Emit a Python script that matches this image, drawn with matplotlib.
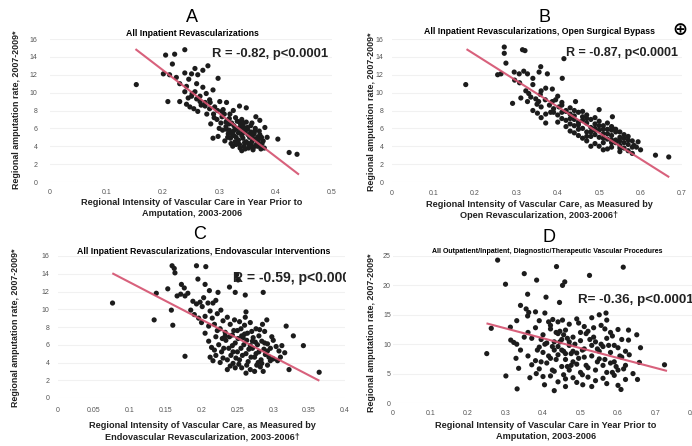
import matplotlib
matplotlib.use("Agg")
import matplotlib.pyplot as plt
from matplotlib.transforms import Bbox, TransformedBbox
import numpy as np

plt.rcParams['font.family'] = ['Liberation Sans', 'DejaVu Sans']

W, H = 692, 446

# ---------------- data ----------------
a_x = [0.153,0.205,0.221,0.239,0.217,0.209,0.201,0.212,0.224,0.239,0.251,0.257,0.271,0.280,0.298,0.262,0.246,
       0.230,0.242,0.260,0.271,0.257,0.266,0.277,0.289,0.239,0.251,0.283,0.230,0.242,0.248,0.266,0.275,0.284,
       0.292,0.301,0.307,0.313,0.319,0.325,0.336,0.348,0.290,0.278,0.255,0.262,0.296,0.305,0.312,0.318,0.285,
       0.289,0.298,0.312,0.318,0.322,0.326,0.330,0.334,0.338,0.342,0.346,0.350,0.354,0.358,0.362,0.366,0.370,
       0.374,0.320,0.328,0.336,0.344,0.352,0.360,0.368,0.316,0.324,0.332,0.340,0.348,0.356,0.364,0.372,0.378,
       0.306,0.310,0.300,0.340,0.348,0.356,0.330,0.322,0.334,0.346,0.360,0.368,0.376,0.340,0.352,0.326,0.314,
       0.344,0.381,0.404,0.424,0.438,0.365,0.372,0.385,0.380]
a_y = [10.9,14.2,14.3,14.8,13.2,9.0,12.1,12.0,11.7,12.2,12.1,12.7,12.5,13.0,11.6,12.0,11.5,
       11.0,10.7,11.0,10.6,10.1,9.6,9.9,10.3,10.1,9.6,9.2,9.0,8.7,8.4,9.0,8.5,8.9,
       8.4,9.0,8.1,8.9,7.6,8.0,8.5,8.3,7.6,7.6,8.2,7.9,7.0,7.3,6.7,7.1,6.5,
       4.9,5.1,6.2,5.8,6.6,5.2,6.0,5.5,6.4,4.9,5.7,6.1,5.0,4.5,5.4,4.2,4.8,
       3.9,4.9,4.5,4.2,4.0,3.8,3.6,4.0,5.4,4.0,6.8,7.0,6.7,6.3,6.0,5.3,4.6,
       5.8,4.6,6.0,5.2,4.5,5.6,5.0,5.4,4.7,3.7,4.9,5.0,4.3,3.5,4.3,6.3,6.9,
       6.1,6.1,4.8,3.3,3.1,7.3,6.9,5.0,3.8]
a_x_core = [0.315,0.321,0.327,0.333,0.339,0.345,0.351,0.357,0.363,0.369,0.375,0.318,0.324,0.330,0.336,0.342,
            0.350,0.358,0.366,0.374,0.303,0.309,0.297,0.291,0.283,0.275,0.268,0.260,0.252,0.245,0.305,0.329,
            0.353,0.361,0.337,0.313,0.343,0.371,0.357,0.333]
a_y_core = [5.0,4.3,5.8,4.6,5.9,4.4,5.3,4.1,5.7,4.5,5.0,6.5,5.6,4.2,6.7,5.5,
            5.9,6.6,4.7,3.7,6.6,7.6,8.0,7.2,8.2,8.9,8.6,9.3,9.9,9.4,7.9,7.2,
            4.1,3.9,3.8,5.9,6.6,5.7,5.2,6.0]
a_fit_x = [0.153, 0.440]
a_fit_y = [14.8, 0.9]

b_x = [0.178,0.271,0.271,0.275,0.255,0.263,0.291,0.315,0.321,0.295,0.307,0.318,0.327,0.355,0.359,0.375,0.411,0.415,
       0.371,0.387,0.340,0.308,0.296,0.323,0.335,0.347,0.358,0.311,0.327,0.354,
       0.443,0.387,0.395,0.403,0.340,0.351,0.371,0.383,0.371,0.360,0.500,0.532,0.532,0.584,0.594,0.636,0.668,
       0.39,0.40,0.41,0.42,0.42,0.43,0.43,0.44,0.44,0.45,0.45,0.46,0.46,0.47,0.47,0.48,0.48,0.49,0.49,0.50,
       0.50,0.51,0.51,0.52,0.52,0.53,0.53,0.54,0.54,0.55,0.55,0.56,0.56,0.57,0.57,0.58,0.58,0.41,0.42,0.43,
       0.45,0.46,0.47,0.48,0.49,0.50,0.51,0.52,0.53,0.55,0.44,0.46,0.47,0.49,0.50,0.52,0.53,0.54,0.55,0.56,
       0.57,0.58,0.59,0.60,0.38,0.36,0.40,0.44,0.48,0.51]
b_y = [10.9,15.1,14.4,13.3,12.0,12.1,8.8,14.8,14.7,12.3,12.1,12.4,12.1,12.3,12.9,12.1,11.6,13.8,
       10.5,10.4,10.9,11.1,11.4,10.2,9.5,9.3,9.8,9.4,9.0,9.0,
       9.0,9.0,9.2,8.4,8.0,7.7,7.6,7.8,6.6,7.2,8.1,7.3,6.0,4.1,4.5,3.0,2.8,
       8.2,7.5,8.6,7.9,6.9,7.6,8.3,7.0,6.3,7.8,6.7,7.3,6.0,6.6,5.6,7.0,6.1,5.3,6.5,5.8,
       5.0,6.3,5.4,4.8,5.9,5.2,4.4,5.6,4.7,4.1,5.0,4.4,3.8,4.7,3.5,3.9,3.2,7.1,6.2,5.7,
       5.2,4.9,4.6,5.1,4.3,4.0,4.4,3.7,3.9,3.4,8.0,7.9,7.5,7.2,6.8,6.6,6.2,5.9,5.6,5.3,
       5.1,4.6,3.9,3.6,8.6,8.4,9.6,5.5,4.0,3.6]
b_x_core = [0.40,0.41,0.42,0.43,0.44,0.45,0.46,0.47,0.48,0.49,0.50,0.51,0.52,0.53,0.54,0.55,0.56,0.57,
            0.45,0.47,0.49,0.51,0.53,0.55,0.43,0.41,0.39,0.37,0.35,0.33,0.34,0.36]
b_y_core = [6.7,7.8,8.0,6.5,7.4,5.9,6.9,7.1,5.6,6.0,6.3,4.9,5.4,5.8,4.4,4.6,4.9,4.2,
            6.4,5.1,5.8,5.9,4.7,3.8,7.1,8.9,7.8,9.2,8.7,9.9,11.6,10.2]
b_fit_x = [0.182, 0.667]
b_fit_y = [14.8, 0.6]

c_x = [0.076,0.134,0.160,0.177,0.137,0.153,0.158,0.159,0.162,0.163,0.172,0.176,0.181,0.171,0.166,0.177,0.193,0.206,
       0.205,0.195,0.211,0.188,0.198,0.203,0.209,0.216,0.220,0.223,0.239,0.247,0.249,0.251,0.261,0.286,0.262,0.291,
       0.318,0.328,0.342,0.322,0.364,0.300,
       0.185,0.190,0.196,0.200,0.205,0.210,0.212,0.215,0.218,0.222,0.226,0.230,0.233,0.236,0.240,0.243,0.246,0.250,
       0.253,0.256,0.260,0.264,0.268,0.272,0.276,0.280,0.284,0.288,0.292,0.296,0.300,0.304,0.308,0.312,0.316,0.310,
       0.296,
       0.205,0.210,0.214,0.212,0.216,0.220,0.224,0.228,0.230,0.234,0.238,0.241,0.244,0.247,0.250,0.253,0.256,0.259,
       0.262,0.265,0.268,0.271,0.274,0.277,0.280,0.283,0.286,0.289,0.292,0.270,0.258,0.245,0.233,0.226,0.240,0.262,
       0.278,0.287,0.294,0.220,0.248,0.255,0.266,0.274,0.282]
c_y = [10.7,8.8,8.2,4.7,11.8,12.3,9.9,14.9,14.6,14.1,12.8,12.4,11.8,11.7,11.5,11.5,14.9,14.8,
       12.8,13.4,12.1,10.9,10.8,11.3,10.7,10.7,11.0,11.9,12.5,11.9,13.9,13.3,11.6,11.9,9.7,8.8,
       8.1,7.0,5.9,3.2,2.9,4.4,
       9.9,9.4,9.0,8.5,9.2,8.1,9.8,9.0,8.3,9.5,7.8,8.7,7.4,9.1,8.3,7.1,8.8,7.6,
       8.6,7.0,8.2,7.3,8.5,6.8,7.8,7.0,6.4,7.5,6.1,5.6,6.5,5.8,5.3,5.9,5.1,4.6,
       4.2,
       7.3,6.4,5.7,4.6,4.2,6.9,6.0,5.2,4.5,6.5,5.6,4.8,3.9,6.2,5.2,4.3,3.4,6.0,
       5.0,4.1,3.2,5.6,4.6,3.7,5.2,4.3,3.0,4.9,3.7,7.5,6.8,7.6,7.0,4.0,3.6,2.8,
       6.0,5.5,4.6,4.8,4.5,5.6,5.5,3.0,3.5]
c_x_core = [0.218,0.222,0.229,0.236,0.243,0.251,0.257,0.263,0.269,0.275,0.281,0.288,0.236,0.244,0.252,0.260,
            0.268,0.276,0.284,0.292,0.231,0.239,0.247,0.255,0.263,0.271,0.279,0.298,0.306,0.201,0.193,0.227,
            0.261,0.285]
c_y_core = [5.4,7.6,6.7,4.3,5.9,6.7,4.8,6.5,4.6,6.3,7.7,6.2,3.2,5.2,3.8,7.2,
            5.9,5.0,3.9,5.3,5.6,6.9,3.4,7.8,3.7,6.4,4.0,6.9,4.2,10.3,10.6,9.9,
            9.1,8.3]
c_fit_x = [0.077, 0.363]
c_fit_y = [14.0, 2.0]

d_x = [0.279,0.300,0.350,0.383,0.359,0.408,0.436,0.452,0.458,0.444,0.524,0.614,0.250,0.262,0.313,0.314,0.322,0.330,
       0.301,0.331,0.335,0.328,0.355,0.362,0.359,0.380,0.405,0.426,0.440,0.452,0.550,0.568,0.530,0.657,0.724,0.652,
       0.628,0.628,0.600,0.580,0.430,0.404,0.506,0.608,0.382,0.400,0.460,0.480,0.520,0.540,0.560,0.590,0.620,0.365,
       0.36,0.37,0.38,0.39,0.40,0.41,0.42,0.43,0.44,0.45,0.46,0.47,0.48,0.49,0.50,0.51,0.52,0.53,0.54,0.55,
       0.56,0.57,0.58,0.59,0.60,0.61,0.62,0.63,0.36,0.37,0.38,0.39,0.40,0.41,0.42,0.43,0.44,0.45,0.46,0.47,
       0.48,0.49,0.50,0.51,0.52,0.53,0.54,0.55,0.56,0.57,0.58,0.59,0.60,0.61,0.62,0.44,0.45,0.43,0.46,0.47,
       0.48,0.50,0.51,0.34,0.35,0.42,0.44,0.46,0.49,0.53,0.57,0.60,0.64,0.66,0.65,0.555,0.57,0.42,0.47,0.49,
       0.33,0.34,0.39]
d_y = [24.3,20.2,22.0,20.9,18.5,18.0,23.2,20.0,20.6,17.1,21.7,23.1,8.4,12.7,12.9,10.7,10.3,10.0,
       4.6,2.4,5.9,7.6,16.0,15.4,14.8,15.5,15.3,14.2,13.8,14.1,15.0,15.3,14.5,6.9,6.5,4.0,
       10.7,12.4,12.5,12.0,2.1,3.1,3.1,2.3,5.0,4.5,4.1,4.3,4.4,3.8,4.2,4.7,4.0,4.3,
       12.0,11.0,12.8,9.5,11.6,10.2,12.6,9.0,11.8,10.8,12.4,9.8,11.2,8.5,10.6,9.2,12.2,8.0,10.4,7.5,
       9.6,11.0,8.6,7.0,9.4,7.8,6.4,8.2,8.0,6.5,7.2,5.8,8.6,6.8,7.6,5.4,8.2,6.2,7.4,5.6,
       8.8,6.6,5.2,7.8,6.0,9.8,5.6,8.8,6.4,5.2,6.8,9.8,5.6,10.8,8.8,9.6,9.0,10.4,8.4,10.4,
       7.0,12.0,13.0,9.0,11.2,4.6,3.6,2.8,3.5,2.8,3.3,3.0,5.0,9.4,11.6,13.2,14.1,13.2,13.4,14.3,
       14.0,16.6,14.0]
d_x_core = [0.385,0.395,0.405,0.415,0.425,0.435,0.445,0.455,0.465,0.475,0.485,0.495,0.505,0.515,0.525,0.535,
            0.545,0.555,0.565,0.575,0.585,0.595,0.605,0.615,0.445,0.455,0.465,0.475,0.435,0.425,0.505,0.515,
            0.535,0.565,0.585,0.415,0.395,0.455,0.495,0.545]
d_y_core = [9.0,7.0,10.0,8.0,9.6,7.4,10.4,11.6,6.2,8.4,10.0,7.6,9.0,6.4,10.8,11.2,
            7.0,10.0,12.6,9.8,11.4,6.2,8.0,5.8,12.2,4.8,11.0,6.4,12.0,5.6,4.8,11.8,
            12.8,7.4,5.2,13.8,10.8,8.8,13.6,9.2]
d_fit_x = [0.252, 0.728]
d_fit_y = [13.5, 5.5]

a_xticks = [0, 0.1, 0.2, 0.3, 0.4, 0.5]
a_xticklabels = ['0', '0.1', '0.2', '0.3', '0.4', '0.5']
b_xticks = [0, 0.1, 0.2, 0.3, 0.4, 0.5, 0.6, 0.7]
b_xticklabels = ['0', '0.1', '0.2', '0.3', '0.4', '0.5', '0.6', '0.7']
c_xticks = [0, 0.05, 0.1, 0.15, 0.2, 0.25, 0.3, 0.35, 0.4]
c_xticklabels = ['0', '0.05', '0.1', '0.15', '0.2', '0.25', '0.3', '0.35', '0.4']
d_xticks = [0, 0.1, 0.2, 0.3, 0.4, 0.5, 0.6, 0.7, 0.8]
d_xticklabels = ['0', '0.1', '0.2', '0.3', '0.4', '0.5', '0.6', '0.7', '0.8']
abc_yticks = [0, 2, 4, 6, 8, 10, 12, 14, 16]
d_yticks = [0, 5, 10, 15, 20, 25]

letters = ['A', 'B', 'C', 'D']
subtitles = ['All Inpatient Revascularizations',
             'All Inpatient Revascularizations, Open Surgical Bypass',
             'All Inpatient Revascularizations, Endovascular Interventions',
             'All Outpatient/Inpatient, Diagnostic/Therapeutic Vascular Procedures']
stats = ['R = -0.82, p<0.0001', 'R = -0.87, p<0.0001', 'R = -0.59, p<0.0001', 'R= -0.36, p<0.0001']
xlabels = ['Regional Intensity of Vascular Care in Year Prior to\nAmputation, 2003-2006',
           'Regional Intensity of Vascular Care, as Measured by\nOpen Revascularization, 2003-2006\u2020',
           'Regional Intensity of Vascular Care, as Measured by\nEndovascular Revascularization, 2003-2006\u2020',
           'Regional Intensity of Vascular Care in Year Prior to\nAmputation, 2003-2006']
ylabel = 'Regional amputation rate, 2007-2009*'

# ---------------- figure ----------------
fig = plt.figure(figsize=(W / 100, H / 100), dpi=100)
fig.patch.set_facecolor('white')


def px(x, y):
    return x / W, 1 - y / H


def rect(l, r, t, b):
    return [l / W, 1 - b / H, (r - l) / W, (b - t) / H]


DOT = '#1c1c1c'
LINE = '#d4506e'

panels = [
    dict(r=rect(50, 332, 39, 182), x=a_x + a_x_core, y=a_y + a_y_core, fx=a_fit_x, fy=a_fit_y,
         xl=(0, 0.5), yl=(0, 16), xt=a_xticks, xtl=a_xticklabels, yt=abc_yticks, xpad=5.2, ypad=9,
         letter=(192, 18), sub=(192, 33), subfs=6.3, stat=(212, 54), statfs=9.4,
         xlab=(192, 208), ylab=(17, 110), clipx=(0, 346)),
    dict(r=rect(392, 682, 39, 182), x=b_x + b_x_core, y=b_y + b_y_core, fx=b_fit_x, fy=b_fit_y,
         xl=(0, 0.7), yl=(0, 16), xt=b_xticks, xtl=b_xticklabels, yt=abc_yticks, xpad=6, ypad=6,
         letter=(544, 17), sub=(539, 31), subfs=6.3, stat=(566, 53), statfs=9.0,
         xlab=(539, 210), ylab=(371, 112), clipx=(346, 692)),
    dict(r=rect(58, 345, 256, 398), x=c_x + c_x_core, y=c_y + c_y_core, fx=c_fit_x, fy=c_fit_y,
         xl=(0, 0.4), yl=(0, 16), xt=c_xticks, xtl=c_xticklabels, yt=abc_yticks, xpad=6.5, ypad=6,
         letter=(200, 235), sub=(204, 252), subfs=6.3, stat=(233, 278), statfs=10.0,
         xlab=(202, 431), ylab=(16, 328), clipx=(0, 346)),
    dict(r=rect(393, 693, 256, 403), x=d_x + d_x_core, y=d_y + d_y_core, fx=d_fit_x, fy=d_fit_y,
         xl=(0, 0.8), yl=(0, 25), xt=d_xticks, xtl=d_xticklabels, yt=d_yticks, xpad=4.7, ypad=1.5,
         letter=(549, 238), sub=(547, 252), subfs=5.0, stat=(578, 300), statfs=9.6,
         xlab=(546, 431), ylab=(371, 333), clipx=(346, 692)),
]

for i, p in enumerate(panels):
    ax = fig.add_axes(p['r'])
    ax.set_xlim(*p['xl'])
    ax.set_ylim(*p['yl'])
    for s in ax.spines.values():
        s.set_visible(False)
    ax.set_xticks(p['xt'])
    ax.set_xticklabels(p['xtl'])
    ax.set_yticks(p['yt'])
    ax.set_yticklabels([str(v) for v in p['yt']])
    ax.tick_params(axis='both', length=0, labelsize=5, labelcolor='#555555')
    ax.tick_params(axis='x', pad=p['xpad'])
    ax.tick_params(axis='y', pad=p['ypad'])
    ax.grid(axis='y', color='#f1f1f1', lw=0.8)
    ax.set_axisbelow(True)
    ax.scatter(p['x'], p['y'], s=14, color=DOT, edgecolors='none', zorder=3, clip_on=False)
    ax.plot(p['fx'], p['fy'], color=LINE, lw=1.5, zorder=4, alpha=0.9)

    fig.text(*px(*p['letter']), letters[i], ha='center', va='center', fontsize=13)
    fig.text(*px(*p['sub']), subtitles[i], ha='center', va='center', fontsize=p['subfs'],
             fontweight='bold')
    t = fig.text(*px(*p['stat']), stats[i], ha='left', va='center', fontsize=p['statfs'],
                 fontweight='bold', color='#222222')
    cl, cr = p['clipx']
    t.set_clip_box(TransformedBbox(Bbox([[cl / W, 0], [cr / W, 1]]), fig.transFigure))
    t.set_clip_on(True)
    fig.text(*px(*p['xlab']), xlabels[i], ha='center', va='center', fontsize=6.6,
             fontweight='bold', linespacing=1.35, color='#222222')
    fig.text(*px(*p['ylab']), ylabel, ha='center', va='center', fontsize=6.4,
             fontweight='bold', rotation=90, color='#222222')

fig.text(*px(680, 30), '\u2295', ha='center', va='center', fontsize=13, fontweight='bold',
         family=['DejaVu Sans'])

fig.savefig('out.png', dpi=100, facecolor='white')
